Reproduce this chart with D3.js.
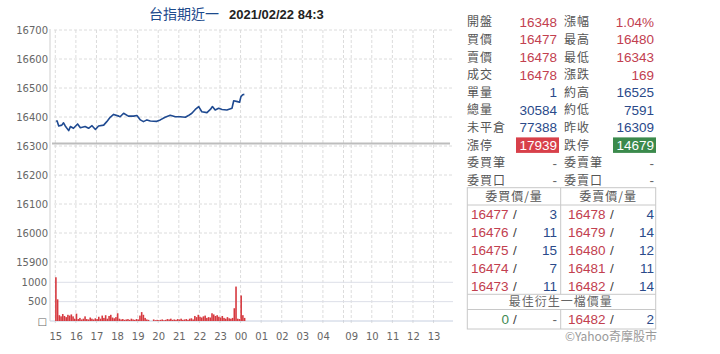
<!DOCTYPE html>
<html>
<head>
<meta charset="utf-8">
<script src="https://cdn.jsdelivr.net/npm/d3@7"></script>
<style>
	body { margin: 0; background: #fff; }
	svg { display: block; }
</style>
</head>
<body>
<div id="chart"></div>
<script>
const titleName = "台指期近一"
const titleStamp = "2021/02/22 84:3"

// intraday price
const priceTimes = ["15:03","15:05","15:10","15:19","15:24","15:29","15:39","15:44","15:53","16:05",
	"16:13","16:27","16:37","16:47","16:57","17:06","17:21","17:30","17:40","17:50",
	"18:05","18:09","18:19","18:33","18:48","18:58","19:08","19:17","19:27","19:37",
	"19:56","20:06","20:20","20:35","20:50","21:04","21:19","21:28","21:38","21:48",
	"21:58","22:07","22:22","22:32","22:38","22:46","22:56","23:06","23:20","23:35",
	"23:40","23:51","23:57","00:01","00:06","00:11"]
const priceValues = [16384,16387,16369,16372,16380,16369,16353,16367,16361,16376,
	16363,16367,16361,16370,16357,16369,16372,16384,16399,16409,
	16403,16401,16413,16403,16403,16405,16390,16384,16390,16386,
	16385,16390,16399,16406,16401,16401,16399,16405,16413,16426,
	16436,16418,16415,16426,16436,16424,16430,16426,16424,16430,
	16456,16453,16451,16470,16477,16478]
const prevClose = 16309

// volume every 5 minutes from 15:00
const volStart = "15:00"
const volStepMinutes = 5
const volumes = [1130,560,150,120,180,130,100,160,140,170,
	120,60,190,50,80,40,60,120,50,40,
	90,60,40,70,50,110,60,140,80,150,
	60,130,160,90,70,100,200,60,40,50,
	30,40,50,30,60,40,30,50,40,140,
	230,160,80,40,30,0,0,40,20,30,
	20,30,40,20,30,50,40,60,30,40,
	30,50,40,60,30,40,50,30,60,70,
	40,130,100,160,110,90,120,140,80,100,
	90,200,170,130,150,110,90,130,80,60,
	100,70,60,80,330,890,60,50,660,150,80]

const priceTicks = [15900,16000,16100,16200,16300,16400,16500,16600,16700]
const volTicks = [0,500,1000]
const volTickLabels = ["□","500","1000"]
const hourTicks = ["15:00","16:00","17:00","18:00","19:00","20:00","21:00","22:00","23:00","00:00",
	"01:00","02:00","03:00","04:00","09:00","10:00","11:00","12:00","13:00"]
const hourLabels = ["15","16","17","18","19","20","21","22","23","00","01","02","03","04","09","10","11","12","13"]
const sessionBreak = "05:00"

// quote panel
const leftLabels = ["開盤","買價","賣價","成交","單量","總量","未平倉","漲停","委買筆","委買口"]
const leftValues = ["16348","16477","16478","16478","1","30584","77388","17939","-","-"]
const leftKinds = ["up","up","up","up","vol","vol","vol","limitUp","none","none"]
const rightLabels = ["漲幅","最高","最低","漲跌","約高","約低","昨收","跌停","委賣筆","委賣口"]
const rightValues = ["1.04%","16480","16343","169","16525","7591","16309","14679","-","-"]
const rightKinds = ["up","up","up","up","vol","vol","vol","limitDown","none","none"]

const bidHeader = "委買價/量"
const askHeader = "委賣價/量"
const bidPrices = ["16477","16476","16475","16474","16473"]
const bidQty = ["3","11","15","7","11"]
const askPrices = ["16478","16479","16480","16481","16482"]
const askQty = ["4","14","12","11","14"]
const bestHeader = "最佳衍生一檔價量"
const bestBid = ["0","-"]
const bestAsk = ["16482","2"]
const credit = "©Yahoo奇摩股市"

const W = 720, H = 354
const plot = { left: 50, right: 453, top: 30, bottom: 321 }
const axisFont = "'DejaVu Sans', Verdana, sans-serif"
const cjkFont = "'Noto Sans CJK TC', 'Noto Sans', sans-serif"
const numFont = "'Liberation Sans', Arial, sans-serif"
const kindColor = { up: "#c2404f", vol: "#2a4a8a", none: "#666", limitUp: "#fff", limitDown: "#fff" }

function sessionHours(t) {
	const [hh, mm] = t.split(":").map(Number)
	const h = hh + mm / 60
	if (h >= 15) return h - 15
	if (h < 6) return h + 9
	return h - 8.75 + 14.125
}

const svg = d3.select("#chart").append("svg").attr("width", W).attr("height", H)

const x = d3.scaleLinear().domain([0, 19.125]).range([55.3, 449])
const yPrice = d3.scaleLinear().domain([15900, 16700]).range([262, 30])
const yVol = d3.scaleLinear().domain([0, 1000]).range([321, 282.3])

// title
const title = svg.append("text").attr("x", 149).attr("y", 19)
title.append("tspan")
	.attr("font-family", cjkFont).attr("font-size", 14).attr("fill", "#1d4a8c")
	.text(titleName)
title.append("tspan")
	.attr("dx", 10).attr("font-family", numFont)
	.attr("font-size", 13).attr("font-weight", "bold").attr("fill", "#222")
	.text(titleStamp)

// vertical grid
const vGrid = hourTicks.concat([sessionBreak])
svg.append("g").selectAll("line").data(vGrid).join("line")
	.attr("x1", (d) => x(sessionHours(d))).attr("x2", (d) => x(sessionHours(d)))
	.attr("y1", plot.top).attr("y2", plot.bottom + 4)
	.attr("stroke", "#dcdcdc").attr("stroke-dasharray", "3,2")

// horizontal grid
svg.append("g").selectAll("line").data(priceTicks).join("line")
	.attr("x1", plot.left + 4).attr("x2", plot.right)
	.attr("y1", (d) => yPrice(d)).attr("y2", (d) => yPrice(d))
	.attr("stroke", "#dcdcdc").attr("stroke-dasharray", "3,2")

svg.append("g").selectAll("line").data(volTicks.slice(1)).join("line")
	.attr("x1", plot.left + 4).attr("x2", plot.right)
	.attr("y1", (d) => yVol(d)).attr("y2", (d) => yVol(d))
	.attr("stroke", "#dcdfe8")

svg.append("line")
	.attr("x1", plot.left).attr("x2", plot.right)
	.attr("y1", yVol(0)).attr("y2", yVol(0))
	.attr("stroke", "#c6cfe0")

svg.append("line")
	.attr("x1", plot.left).attr("x2", plot.left)
	.attr("y1", plot.top - 1).attr("y2", plot.bottom)
	.attr("stroke", "#cfcfcf")

// previous close
svg.append("line")
	.attr("x1", plot.left + 2).attr("x2", plot.right - 3)
	.attr("y1", yPrice(prevClose)).attr("y2", yPrice(prevClose))
	.attr("stroke", "#bdbdbd").attr("stroke-width", 2)

// volume bars
const v0 = sessionHours(volStart)
svg.append("g").selectAll("rect").data(volumes).join("rect")
	.attr("x", (d, i) => x(v0 + (i * volStepMinutes) / 60) - 0.2)
	.attr("width", 1.6)
	.attr("y", (d) => yVol(d))
	.attr("height", (d) => yVol(0) - yVol(d))
	.attr("fill", "#d6393f")

// price line
const line = d3.line()
	.x((d, i) => x(sessionHours(priceTimes[i])))
	.y((d) => yPrice(d))

svg.append("path")
	.datum(priceValues)
	.attr("fill", "none")
	.attr("stroke", "#1f4a91")
	.attr("stroke-width", 1.6)
	.attr("stroke-linejoin", "round")
	.attr("d", line)

// axes labels
const styleAxis = (g) => {
	g.select(".domain").remove()
	g.selectAll("text").attr("font-family", axisFont).attr("font-size", 10).attr("fill", "#666")
}

svg.append("g")
	.attr("transform", `translate(${plot.left},0)`)
	.call(d3.axisLeft(yPrice).tickValues(priceTicks).tickFormat(d3.format("d")).tickSize(0).tickPadding(2))
	.call(styleAxis)

svg.append("g")
	.attr("transform", `translate(${plot.left},0)`)
	.call(d3.axisLeft(yVol).tickValues(volTicks).tickFormat((d, i) => volTickLabels[i]).tickSize(0).tickPadding(3))
	.call(styleAxis)

svg.append("g")
	.attr("transform", `translate(0,${plot.bottom})`)
	.call(d3.axisBottom(x).tickValues(hourTicks.map(sessionHours)).tickFormat((d, i) => hourLabels[i]).tickSize(0).tickPadding(11.5))
	.call(styleAxis)

// quote panel: CJK labels a bit smaller with spacing so rows do not collide
const panel = svg.append("g").attr("font-family", numFont).attr("font-size", 13.5)
const cjk = (sel) => sel.attr("font-family", cjkFont).attr("font-size", 12).attr("letter-spacing", 1)
const rowY = (i) => 22 + i * 17.6
const boxFill = { limitUp: "#d8404a", limitDown: "#3b8a4c" }

const drawColumn = (labels, values, kinds, labelX, valueX) => {
	labels.forEach((lab, i) => {
		panel.append("text").attr("x", labelX).attr("y", rowY(i)).attr("dy", "0.36em")
			.call(cjk).attr("fill", "#555").text(lab)
		if (boxFill[kinds[i]]) {
			panel.append("rect")
				.attr("x", valueX - 41).attr("y", rowY(i) - 7.8)
				.attr("width", 43).attr("height", 15.5)
				.attr("fill", boxFill[kinds[i]])
		}
		panel.append("text").attr("x", valueX).attr("y", rowY(i)).attr("dy", "0.36em")
			.attr("text-anchor", "end").attr("fill", kindColor[kinds[i]]).text(values[i])
	})
}
drawColumn(leftLabels, leftValues, leftKinds, 467, 557)
drawColumn(rightLabels, rightValues, rightKinds, 564, 654)

// order book table
const tbl = { left: 467.3, mid: 560.7, right: 655.7, top: 187.7, head: 205, book: 294.3, best: 309.5, bottom: 329 }
const border = "#c8c8c8"
panel.append("rect")
	.attr("x", tbl.left).attr("y", tbl.top)
	.attr("width", tbl.right - tbl.left).attr("height", tbl.bottom - tbl.top)
	.attr("fill", "none").attr("stroke", border)
;[tbl.head, tbl.book, tbl.best].forEach((yy) => {
	panel.append("line").attr("x1", tbl.left).attr("x2", tbl.right)
		.attr("y1", yy).attr("y2", yy).attr("stroke", border)
})
panel.append("line").attr("x1", tbl.mid).attr("x2", tbl.mid)
	.attr("y1", tbl.top).attr("y2", tbl.book).attr("stroke", border)
panel.append("line").attr("x1", tbl.mid).attr("x2", tbl.mid)
	.attr("y1", tbl.best).attr("y2", tbl.bottom).attr("stroke", border)

panel.append("text").attr("x", (tbl.left + tbl.mid) / 2).attr("y", 196.5).attr("dy", "0.36em")
	.call(cjk).attr("text-anchor", "middle").attr("fill", "#555").text(bidHeader)
panel.append("text").attr("x", (tbl.mid + tbl.right) / 2).attr("y", 196.5).attr("dy", "0.36em")
	.call(cjk).attr("text-anchor", "middle").attr("fill", "#555").text(askHeader)

const bookY = (i) => 214.5 + i * 17.8
const bookRow = (yy, price, qty, priceEnd, slashX, qtyEnd, priceColor) => {
	panel.append("text").attr("x", priceEnd).attr("y", yy).attr("dy", "0.36em")
		.attr("text-anchor", "end").attr("fill", priceColor).text(price)
	panel.append("text").attr("x", slashX).attr("y", yy).attr("dy", "0.36em")
		.attr("text-anchor", "middle").attr("fill", "#444").text("/")
	panel.append("text").attr("x", qtyEnd).attr("y", yy).attr("dy", "0.36em")
		.attr("text-anchor", "end").attr("fill", qty === "-" ? "#666" : "#2a4a8a").text(qty)
}
bidPrices.forEach((p, i) => bookRow(bookY(i), p, bidQty[i], 508.5, 515, 557, "#c2404f"))
askPrices.forEach((p, i) => bookRow(bookY(i), p, askQty[i], 605.5, 612, 654, "#c2404f"))

panel.append("text").attr("x", tbl.mid).attr("y", 302).attr("dy", "0.36em")
	.call(cjk).attr("text-anchor", "middle").attr("fill", "#666").text(bestHeader)
bookRow(319.5, bestBid[0], bestBid[1], 509, 515, 557, "#3f8a52")
bookRow(319.5, bestAsk[0], bestAsk[1], 605.5, 612, 654, "#c2404f")

panel.append("text").attr("x", 657).attr("y", 337).attr("dy", "0.36em")
	.call(cjk).attr("letter-spacing", 0).attr("text-anchor", "end").attr("fill", "#9a9a9a").text(credit)
</script>
</body>
</html>
